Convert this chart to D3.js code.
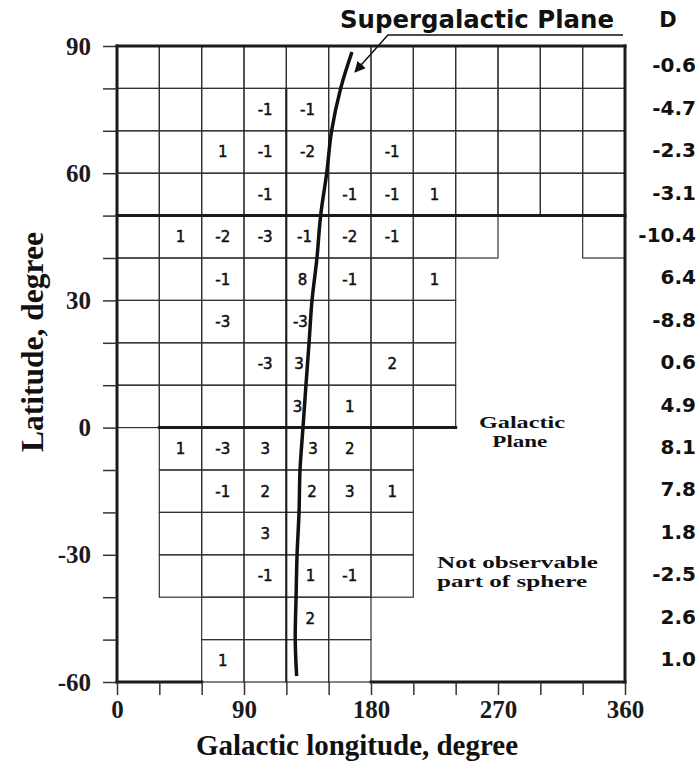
<!DOCTYPE html>
<html>
<head>
<meta charset="utf-8">
<script src="https://cdn.jsdelivr.net/npm/d3@7"></script>
<style>
  body { margin: 0; background: #fff; }
  svg { display: block; }
</style>
</head>
<body>
<div id="chart"></div>
<script>
// Latitude bands (lower edge, degrees), top to bottom
let bandLat = [80, 70, 60, 50, 40, 30, 20, 10, 0, -10, -20, -30, -40, -50, -60];

// Observed 30-degree longitude columns in each band (index 0 = 0..30 deg)
let allCols = [0, 1, 2, 3, 4, 5, 6, 7, 8, 9, 10, 11];
let bandCols = [
  allCols, allCols, allCols, allCols,
  [0, 1, 2, 3, 4, 5, 6, 7, 8, 11],
  [0, 1, 2, 3, 4, 5, 6, 7],
  [0, 1, 2, 3, 4, 5, 6, 7],
  [0, 1, 2, 3, 4, 5, 6, 7],
  [0, 1, 2, 3, 4, 5, 6, 7],
  [1, 2, 3, 4, 5, 6],
  [1, 2, 3, 4, 5, 6],
  [1, 2, 3, 4, 5, 6],
  [1, 2, 3, 4, 5, 6],
  [2, 3, 4, 5],
  [2, 3, 4, 5]
];

// D value for each band
let dValues = [-0.6, -4.7, -2.3, -3.1, -10.4, 6.4, -8.8, 0.6, 4.9, 8.1, 7.8, 1.8, -2.5, 2.6, 1.0];

// Cell values: [band lower latitude, column start longitude, value]
let cellCounts = [
  [70, 90, -1], [70, 120, -1],
  [60, 60, 1], [60, 90, -1], [60, 120, -2], [60, 180, -1],
  [50, 90, -1], [50, 150, -1], [50, 180, -1], [50, 210, 1],
  [40, 30, 1], [40, 60, -2], [40, 90, -3], [40, 120, -1], [40, 150, -2], [40, 180, -1],
  [30, 60, -1], [30, 120, 8], [30, 150, -1], [30, 210, 1],
  [20, 60, -3], [20, 120, -3],
  [10, 90, -3], [10, 120, 3], [10, 180, 2],
  [0, 120, 3], [0, 150, 1],
  [-10, 30, 1], [-10, 60, -3], [-10, 90, 3], [-10, 120, 3], [-10, 150, 2],
  [-20, 60, -1], [-20, 90, 2], [-20, 120, 2], [-20, 150, 3], [-20, 180, 1],
  [-30, 90, 3],
  [-40, 90, -1], [-40, 120, 1], [-40, 150, -1],
  [-50, 120, 2],
  [-60, 60, 1]
];

// Supergalactic plane trace
let sgLon = [166.5, 158.5, 152.1, 148.6, 144.3, 141.7, 138.2, 136.1, 133.9, 131.8, 129.7, 129.0, 127.6, 126.9, 126.3, 127.3];
let sgLat = [88.6, 80, 70, 60, 50, 40, 30, 20, 10, 0, -10, -20, -30, -40, -50, -58.6];

// Axis tick labels
let lonLabels = [0, 90, 180, 270, 360];
let latLabels = [90, 60, 30, 0, -30, -60];

let svgWidth = 698;
let svgHeight = 761;

let svg = d3.select('#chart')
  .append('svg')
  .attr('width', svgWidth)
  .attr('height', svgHeight);

let x = d3.scaleLinear().domain([0, 360]).range([117, 625]);
let y = d3.scaleLinear().domain([-60, 90]).range([682, 46]);
let colW = x(30) - x(0);

let ink = '#1a1a1a';
let serif = '"Liberation Serif", "Times New Roman", serif';
let sans = '"DejaVu Sans", sans-serif';

// Cells
let cells = [];
bandLat.forEach((lat, i) => {
  bandCols[i].forEach(c => cells.push({ lat: lat, lon: c * 30 }));
});

svg.append('g')
  .selectAll('rect')
  .data(cells)
  .enter()
  .append('rect')
  .attr('x', d => x(d.lon))
  .attr('y', d => y(d.lat + 10))
  .attr('width', colW)
  .attr('height', y(0) - y(10))
  .attr('fill', 'none')
  .attr('stroke', '#333')
  .attr('stroke-width', 1.2);

// Heavier lines: frame, lat 50, galactic plane, lon 120
let heavy = svg.append('g')
  .attr('fill', 'none')
  .attr('stroke', ink)
  .attr('stroke-width', 3)
  .attr('stroke-linecap', 'square');

let seg = (a, b) => heavy.append('line')
  .attr('x1', x(a[0])).attr('y1', y(a[1]))
  .attr('x2', x(b[0])).attr('y2', y(b[1]));

seg([0, 90], [360, 90]);
seg([0, 90], [0, -60]);
seg([360, 90], [360, -60]);
seg([0, -60], [60, -60]);
seg([180, -60], [360, -60]);
seg([0, 50], [360, 50]);
seg([30, 0], [240, 0]);
seg([120, 80], [120, -60]).attr('stroke-width', 2).attr('stroke-linecap', 'butt');

// Axes
let yAxis = d3.axisLeft(y)
  .tickValues(d3.range(-60, 91, 10))
  .tickSize(14)
  .tickPadding(12)
  .tickFormat(d => latLabels.includes(d) ? d : '');

let xAxis = d3.axisBottom(x)
  .tickValues(d3.range(0, 361, 30))
  .tickSize(13)
  .tickPadding(5)
  .tickFormat(d => lonLabels.includes(d) ? d : '');

[
  svg.append('g').attr('transform', `translate(${x(0)},0)`).call(yAxis),
  svg.append('g').attr('transform', `translate(0,${y(-60)})`).call(xAxis)
].forEach(g => {
  g.select('.domain').remove();
  g.selectAll('.tick line').attr('stroke', '#333').attr('stroke-width', 1.5);
  g.selectAll('.tick text')
    .attr('font-family', serif)
    .attr('font-weight', 'bold')
    .attr('font-size', 25)
    .attr('fill', ink);
});

// Supergalactic curve position at a latitude (to keep cell values off the line)
let sgAt = d3.scaleLinear().domain(sgLat).range(sgLon);

function valueX(d) {
  let x0 = x(d[1]), x1 = x(d[1] + 30), mid = (x0 + x1) / 2;
  let cx = x(sgAt(d[0] + 5));
  if (cx < x0 + 4 || cx > x1 - 4) return mid;
  if (cx > mid - 4.5) return (x0 + cx) / 2 + 2;
  return (cx + x1) / 2 - 2;
}

svg.append('g')
  .selectAll('text')
  .data(cellCounts)
  .enter()
  .append('text')
  .attr('x', d => valueX(d))
  .attr('y', d => y(d[0] + 5))
  .attr('dy', '0.36em')
  .attr('text-anchor', 'middle')
  .attr('font-family', sans)
  .attr('font-size', 15)
  .attr('fill', '#111')
  .attr('stroke', '#111')
  .attr('stroke-width', 0.5)
  .text(d => d[2]);

// Supergalactic plane curve
let sgLine = d3.line()
  .x(d => x(d[0]))
  .y(d => y(d[1]))
  .curve(d3.curveCatmullRom);

svg.append('path')
  .datum(sgLon.map((lon, i) => [lon, sgLat[i]]))
  .attr('d', sgLine)
  .attr('fill', 'none')
  .attr('stroke', '#111')
  .attr('stroke-width', 3.5);

// Label leader with arrow
svg.append('defs')
  .append('marker')
  .attr('id', 'arrow')
  .attr('viewBox', '0 0 10 10')
  .attr('refX', 9)
  .attr('refY', 5)
  .attr('markerWidth', 11)
  .attr('markerHeight', 11)
  .attr('markerUnits', 'userSpaceOnUse')
  .attr('orient', 'auto')
  .append('path')
  .attr('d', 'M0,0 L10,5 L0,10 Z')
  .attr('fill', '#111');

svg.append('path')
  .datum([[358.6, 92.6], [192, 92.6], [168.7, 83.9]])
  .attr('d', d3.line().x(d => x(d[0])).y(d => y(d[1])))
  .attr('fill', 'none')
  .attr('stroke', '#111')
  .attr('stroke-width', 1.5)
  .attr('marker-end', 'url(#arrow)');

svg.append('text')
  .attr('x', 340)
  .attr('y', 28)
  .attr('font-family', sans)
  .attr('font-weight', 'bold')
  .attr('font-size', 24)
  .attr('textLength', 274)
  .attr('lengthAdjust', 'spacingAndGlyphs')
  .attr('fill', '#111')
  .text('Supergalactic Plane');

// D column
svg.append('text')
  .attr('x', 668)
  .attr('y', 27)
  .attr('text-anchor', 'middle')
  .attr('font-family', sans)
  .attr('font-weight', 'bold')
  .attr('font-size', 21)
  .attr('fill', '#111')
  .text('D');

svg.append('g')
  .selectAll('text')
  .data(dValues)
  .enter()
  .append('text')
  .attr('x', 696)
  .attr('y', (d, i) => y(bandLat[i] + 5) - 2)
  .attr('dy', '0.36em')
  .attr('text-anchor', 'end')
  .attr('font-family', sans)
  .attr('font-weight', 'bold')
  .attr('font-size', 20)
  .attr('fill', '#111')
  .text(d => d.toFixed(1));

// Region notes
let note = (txt, lon, lat, anchor, len) => svg.append('text')
  .attr('x', x(lon))
  .attr('y', y(lat))
  .attr('text-anchor', anchor)
  .attr('font-family', serif)
  .attr('font-weight', 'bold')
  .attr('font-size', 16.5)
  .attr('textLength', len)
  .attr('lengthAdjust', 'spacingAndGlyphs')
  .attr('fill', '#111')
  .text(txt);

note('Galactic', 287, -0.2, 'middle', 86);
note('Plane', 285.5, -4.5, 'middle', 55);
note('Not observable', 226.8, -33, 'start', 161);
note('part of sphere', 226.8, -37.7, 'start', 150);

// Axis titles
svg.append('text')
  .attr('transform', `translate(43, 342) rotate(-90)`)
  .attr('text-anchor', 'middle')
  .attr('font-family', serif)
  .attr('font-weight', 'bold')
  .attr('font-size', 31)
  .attr('textLength', 220)
  .attr('lengthAdjust', 'spacingAndGlyphs')
  .attr('fill', '#111')
  .text('Latitude, degree');

svg.append('text')
  .attr('x', 357)
  .attr('y', 755)
  .attr('text-anchor', 'middle')
  .attr('font-family', serif)
  .attr('font-weight', 'bold')
  .attr('font-size', 29)
  .attr('textLength', 322)
  .attr('lengthAdjust', 'spacingAndGlyphs')
  .attr('fill', '#111')
  .text('Galactic longitude, degree');
</script>
</body>
</html>
